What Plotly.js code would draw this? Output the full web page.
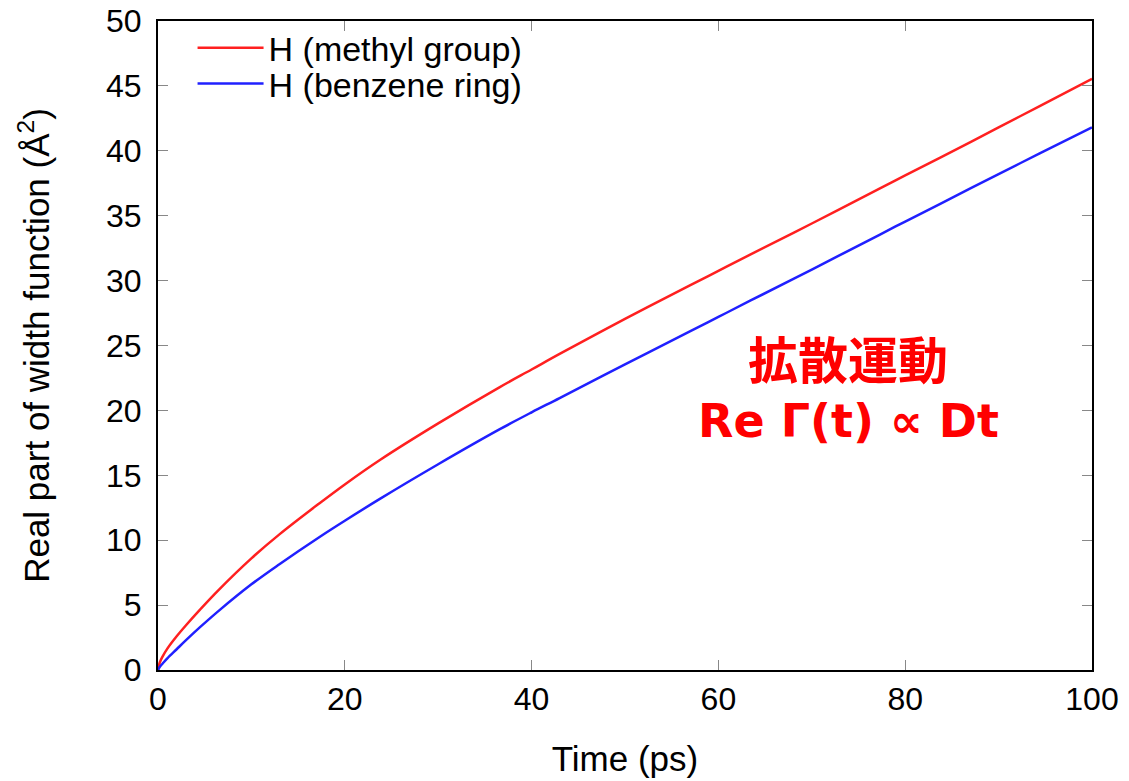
<!DOCTYPE html>
<html>
<head>
<meta charset="utf-8">
<script src="https://cdn.plot.ly/plotly-3.0.1.min.js"></script>
<style>html,body{margin:0;padding:0;background:#fff;}#chart{width:1129px;height:781px;}</style>
</head>
<body>
<div id="chart"></div>
<script>
const time = [0, 0.2, 0.5, 1, 2, 3, 4.5, 6.4, 10, 13, 17.3, 20, 23.8, 30, 36.6, 40, 43, 50, 57, 60, 63.4, 70, 77.3, 80, 83.7, 90, 94.4, 100];
const methylH = [0, 0.6, 1.05, 1.65, 2.6, 3.45, 4.65, 6.1, 8.6, 10.45, 12.85, 14.3, 16.2, 19.0, 21.8, 23.15, 24.35, 27.05, 29.65, 30.75, 32.0, 34.4, 37.1, 38.1, 39.45, 41.8, 43.45, 45.55];
const benzeneH = [0, 0.25, 0.5, 0.9, 1.6, 2.3, 3.3, 4.5, 6.6, 8.15, 10.25, 11.5, 13.2, 15.85, 18.55, 19.85, 20.95, 23.55, 26.1, 27.2, 28.45, 30.85, 33.55, 34.55, 35.9, 38.2, 39.8, 41.8];
const seriesNames = ["H (methyl group)", "H (benzene ring)"];
const xTicks = [0, 20, 40, 60, 80, 100];
const yTicks = [0, 5, 10, 15, 20, 25, 30, 35, 40, 45, 50];

const font = "Liberation Sans, Arial, sans-serif";
const traces = [
  {x: time, y: methylH, name: seriesNames[0], legend: "legend", mode: "lines",
   line: {color: "#ff2020", width: 2.5, shape: "spline", smoothing: 1}},
  {x: time, y: benzeneH, name: seriesNames[1], legend: "legend2", mode: "lines",
   line: {color: "#2020ff", width: 2.5, shape: "spline", smoothing: 1}}
];
const axisCommon = {
  showgrid: false, zeroline: false, showline: true, mirror: "ticks",
  linecolor: "#000", linewidth: 2, ticks: "inside", ticklen: 10, tickwidth: 1, tickcolor: "#888",
  tickfont: {family: font, size: 32, color: "#000"}
};
const legendCommon = {x: 0.037, xanchor: "left", yanchor: "middle", bgcolor: "rgba(0,0,0,0)",
  font: {family: font, size: 34, color: "#000"}, itemwidth: 66};
const layout = {
  width: 1129, height: 781,
  margin: {l: 158, r: 37, t: 21, b: 111},
  paper_bgcolor: "#fff", plot_bgcolor: "#fff",
  showlegend: true,
  legend: Object.assign({}, legendCommon, {y: 0.958}),
  legend2: Object.assign({}, legendCommon, {y: 0.903}),
  xaxis: Object.assign({}, axisCommon, {range: [0, 100], tickvals: xTicks,
           title: {text: "Time (ps)", font: {family: font, size: 35, color: "#000"}, standoff: 30}}),
  yaxis: Object.assign({}, axisCommon, {range: [0, 50], tickvals: yTicks, ticklabelstandoff: 8,
           title: {text: "Real part of width function (Å<sup>2</sup>)", font: {family: font, size: 35, color: "#000"}, standoff: 46}}),
  annotations: [
    {xref: "paper", yref: "paper", x: 0.739, y: 0.482, xanchor: "center", yanchor: "middle",
     text: "<b>拡散運動</b>", showarrow: false,
     font: {family: "Noto Sans CJK JP", size: 50, color: "#ff0000"}},
    {xref: "paper", yref: "paper", x: 0.739, y: 0.384, xanchor: "center", yanchor: "middle",
     text: "<b>Re Γ(t) ∝ Dt</b>", showarrow: false,
     font: {family: "DejaVu Sans", size: 46, color: "#ff0000"}}
  ]
};
Plotly.newPlot("chart", traces, layout, {displayModeBar: false, staticPlot: true});
</script>
</body>
</html>
